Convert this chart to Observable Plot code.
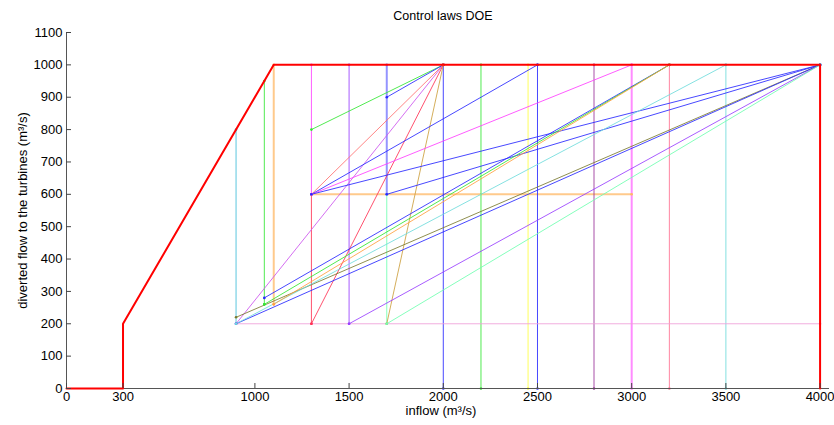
<!DOCTYPE html>
<html><head><meta charset="utf-8">
<script src="https://cdn.jsdelivr.net/npm/d3@7"></script>
<script src="https://cdn.jsdelivr.net/npm/@observablehq/plot@0.6"></script>
<style>body{margin:0;background:#fff}svg{display:block}</style>
</head><body><div id="chart"></div>
<script>
const title = "Control laws DOE";
const xLabel = "inflow (m³/s)";
const yLabel = "diverted flow to the turbines (m³/s)";
const xTicks = [0, 300, 1000, 1500, 2000, 2500, 3000, 3500, 4000];
const yTicks = [0, 100, 200, 300, 400, 500, 600, 700, 800, 900, 1000, 1100];

// Envelope law (red)
const envelopeQ = [0, 300, 300, 1100, 4000, 4000];
const envelopeD = [0, 0, 200, 1000, 1000, 0];

// Law segments: start inflow / flow, end inflow / flow, series
const segQ1 = [900, 1050, 1100, 1300, 1300, 1500, 1700, 1700, 2000, 2200, 2450, 2500, 2800, 3000, 3200, 3500,
  900, 1300,
  1300, 1700, 1300, 900, 1300, 1700, 1300, 1300, 1300, 1700, 900, 900, 1500, 1700, 900, 1050, 1050, 1100];
const segD1 = [200, 260, 260, 600, 200, 200, 200, 600, 0, 0, 0, 0, 0, 0, 0, 0,
  200, 600,
  800, 900, 600, 200, 200, 200, 600, 600, 600, 600, 220, 200, 200, 200, 200, 280, 260, 260];
const segQ2 = [900, 1050, 1100, 1300, 1300, 1500, 1700, 1700, 2000, 2200, 2450, 2500, 2800, 3000, 3200, 3500,
  4000, 3000,
  2000, 2000, 2000, 2000, 2000, 2000, 2500, 3000, 4000, 4000, 4000, 4000, 4000, 4000, 3500, 3200, 3200, 3200];
const segD2 = [800, 950, 1000, 1000, 600, 1000, 600, 1000, 1000, 1000, 1000, 1000, 1000, 1000, 1000, 1000,
  200, 600,
  1000, 1000, 1000, 1000, 1000, 1000, 1000, 1000, 1000, 1000, 1000, 1000, 1000, 1000, 1000, 1000, 1000, 1000];
const segSeries = ["cyanDark", "green", "orangeLight", "magenta", "crimson", "purple", "aquamarine", "blueLight",
  "blue", "green", "yellow", "blue", "plum", "magentaLight", "salmon", "cyan",
  "pink", "orangeLight",
  "green", "blue", "salmonLine", "violet", "crimson", "tan", "blue", "magenta", "blue", "blue",
  "olive", "blue", "purple", "aquamarine", "cyan", "blue", "green", "orange"];

// styles
const palette = {
  cyanDark: "#40bcd8", green: "#33e633", orangeLight: "#ffb866", magenta: "#ff40ff", crimson: "#ff3355",
  purple: "#9940ff", aquamarine: "#70ffb0", blueLight: "#7070ff", blue: "#2828ff", yellow: "#ffff40",
  plum: "#993399", magentaLight: "#ff66ff", salmon: "#ff7090", cyan: "#70dcdc", pink: "#f0a0d8",
  salmonLine: "#ff7070", violet: "#cc55ee", tan: "#cca040", olive: "#7a7a30", orange: "#ffa040"
};
const wide = new Set(["orangeLight", "blueLight", "magentaLight"]);

const segs = segQ1.map((q, i) => ({q1: q, d1: segD1[i], q2: segQ2[i], d2: segD2[i], s: segSeries[i]}));
const ends = segs.flatMap(d => [{q: d.q1, d: d.d1, s: d.s}, {q: d.q2, d: d.d2, s: d.s}]);
const envelope = envelopeQ.map((q, i) => ({q, d: envelopeD[i]}));

const font = "'Liberation Sans', Arial, Helvetica, sans-serif";

const chart = Plot.plot({
  width: 834, height: 425,
  marginLeft: 66, marginRight: 5, marginTop: 32, marginBottom: 37,
  style: {fontFamily: font, fontSize: "13px", background: "#fff", color: "#000"},
  x: {domain: [0, 4050]},
  y: {domain: [0, 1100]},
  marks: [
    Plot.link(segs.filter(d => wide.has(d.s)), {x1: "q1", y1: "d1", x2: "q2", y2: "d2", stroke: d => palette[d.s], strokeWidth: 2, strokeOpacity: 0.75}),
    Plot.link(segs.filter(d => !wide.has(d.s)), {x1: "q1", y1: "d1", x2: "q2", y2: "d2", stroke: d => palette[d.s], strokeWidth: 1, strokeOpacity: 0.85}),
    Plot.dot(ends, {x: "q", y: "d", r: 1.3, fill: d => palette[d.s], stroke: null}),
    Plot.ruleY([0], {stroke: "#555", strokeWidth: 1}),
    Plot.ruleX([0], {stroke: "#555", strokeWidth: 1}),
    Plot.line(envelope, {x: "q", y: "d", stroke: "#ff0000", strokeWidth: 2}),
    Plot.axisX({ticks: xTicks, tickSize: -5, tickPadding: 8, tickFormat: d => String(d), label: null, stroke: "#444"}),
    Plot.axisY({ticks: yTicks, tickSize: -5, tickPadding: 9, tickFormat: d => String(d), label: null, stroke: "#444"}),
    Plot.text([title], {frameAnchor: "top", dy: -21, dx: -5, fontSize: 12.5}),
    Plot.text([xLabel], {frameAnchor: "bottom", dy: 26, dx: -7, fontSize: 13}),
    Plot.text([yLabel], {frameAnchor: "left", dx: -44, rotate: -90, textAnchor: "middle", fontSize: 13})
  ]
});
document.getElementById("chart").append(chart);
</script>
</body></html>
